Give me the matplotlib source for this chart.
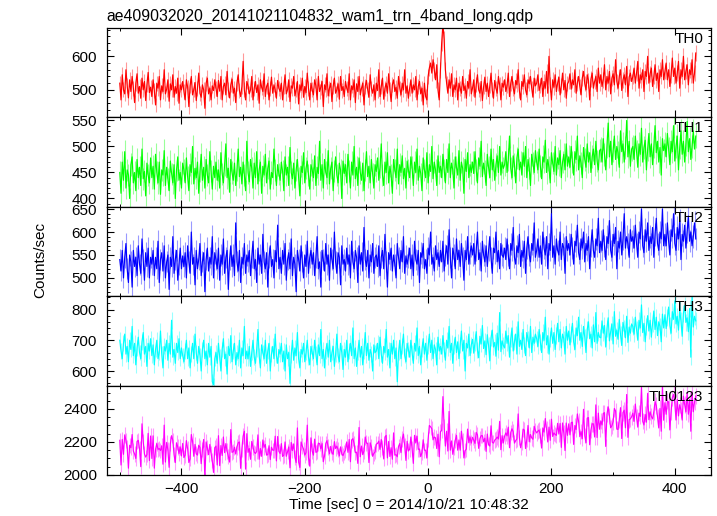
import numpy as np
import matplotlib
matplotlib.use("Agg")
import matplotlib.pyplot as plt
from matplotlib.ticker import MultipleLocator

plt.rcParams['font.family'] = ['Liberation Sans', 'DejaVu Sans']
plt.rcParams['font.size'] = 11

title = "ae409032020_20141021104832_wam1_trn_4band_long.qdp"
xlabel = "Time [sec] 0 = 2014/10/21 10:48:32"
bands = ["TH0", "TH1", "TH2", "TH3", "TH0123"]
colors = ["#ff0000", "#00ff00", "#0000ff", "#00ffff", "#ff00ff"]

# light curve, 2 s bins starting at -500 s (counts/sec)
th0 = [
    520, 470, 545, 500, 488, 560, 512, 476, 530, 495, 540, 505, 462, 520, 548, 490, 510, 475, 535, 500, 525, 468, 515, 552, 492, 508,
    480, 530, 498, 455, 520, 505, 540, 470, 512, 495, 560, 488, 502, 530, 466, 518, 500, 545, 478, 510, 490, 535, 460, 515, 500, 525,
    495, 470, 530, 508, 450, 512, 540, 485, 500, 522, 468, 505, 550, 490, 478, 515, 500, 445, 520, 535, 488, 505, 470, 512, 498, 530,
    505, 480, 528, 496, 540, 470, 510, 520, 485, 555, 500, 476, 515, 532, 490, 505, 462, 520, 545, 498, 480, 510, 585, 500, 470, 525,
    512, 488, 500, 540, 470, 505, 525, 492, 515, 460, 530, 508, 495, 548, 480, 510, 520, 470, 505, 538, 490, 515, 500, 475, 528, 505,
    495, 520, 470, 510, 545, 488, 500, 530, 465, 512, 505, 540, 482, 500, 525, 458, 515, 498, 535, 478, 510, 492, 550, 505, 470, 520,
    500, 485, 530, 512, 470, 540, 495, 508, 525, 450, 515, 500, 548, 482, 505, 520, 465, 510, 535, 490, 500, 518, 472, 540, 498, 510,
    480, 525, 505, 492, 548, 470, 512, 500, 530, 462, 518, 495, 540, 485, 505, 520, 455, 510, 528, 500, 478, 545, 505, 490, 515, 470,
    520, 498, 560, 480, 510, 535, 472, 505, 520, 490, 548, 500, 465, 515, 530, 495, 508, 475, 540, 505, 485, 520, 500, 560, 490, 512,
    475, 505, 530, 490, 515, 500, 540, 470, 510, 525, 488, 505, 455, 520, 480, 470, 540, 565, 580, 550, 590, 560, 530, 575, 500, 470,
    560, 640, 695, 650, 560, 520, 490, 530, 505, 548, 480, 515, 500, 535, 470, 520, 505, 490, 540, 498, 512, 475, 525, 505, 560, 488,
    505, 530, 478, 515, 545, 500, 490, 525, 468, 510, 538, 495, 520, 480, 512, 550, 500, 475, 528, 505, 490, 540, 515, 470, 520, 508,
    530, 495, 512, 550, 480, 520, 540, 505, 488, 528, 515, 560, 498, 470, 525, 510, 545, 500, 485, 530, 518, 540, 505, 478, 535, 512,
    520, 545, 498, 512, 535, 480, 525, 505, 555, 490, 600, 515, 470, 530, 508, 545, 495, 520, 538, 485, 512, 550, 500, 528, 475, 518,
    525, 548, 502, 530, 515, 560, 490, 520, 540, 510, 485, 535, 555, 518, 500, 545, 528, 470, 532, 550, 505, 525, 540, 495, 565, 520,
    545, 510, 530, 575, 500, 540, 520, 555, 488, 535, 548, 515, 590, 525, 505, 540, 560, 498, 530, 545, 515, 570, 480, 538, 550, 525,
    540, 565, 520, 550, 585, 505, 545, 530, 560, 495, 555, 540, 600, 520, 548, 565, 510, 540, 575, 528, 550, 495, 560, 540, 590, 530,
    555, 580, 530, 560, 510, 545, 595, 540, 565, 520, 550, 585, 505, 560, 540, 600, 530, 555, 575, 515, 560, 545, 590, 520, 550, 610,
]
th1 = [
    450, 410, 470, 435, 490, 420, 455, 445, 400, 465, 480, 430, 450, 415, 475, 440, 460, 425, 495, 438, 452, 405, 468, 445, 430, 478,
    440, 462, 418, 485, 450, 430, 470, 408, 455, 445, 492, 425, 460, 438, 415, 472, 448, 430, 465, 400, 455, 480, 435, 450, 420, 468,
    455, 430, 478, 442, 415, 465, 450, 500, 428, 458, 440, 470, 410, 452, 485, 435, 460, 420, 475, 445, 430, 490, 452, 418, 462, 440,
    470, 435, 455, 420, 488, 448, 430, 465, 505, 440, 458, 412, 475, 450, 435, 468, 425, 455, 495, 442, 460, 428, 470, 445, 415, 510,
    450, 432, 475, 458, 420, 468, 440, 490, 428, 455, 470, 410, 462, 445, 485, 430, 458, 472, 418, 450, 440, 495, 455, 425, 465, 448,
    435, 470, 452, 415, 480, 445, 460, 425, 498, 450, 438, 468, 420, 455, 475, 440, 405, 462, 450, 488, 430, 458, 472, 445, 418, 465,
    455, 440, 482, 425, 460, 448, 510, 435, 465, 420, 475, 450, 440, 492, 428, 458, 470, 415, 452, 480, 445, 430, 468, 455, 400, 472,
    448, 465, 430, 485, 452, 420, 470, 445, 500, 438, 460, 425, 478, 450, 435, 468, 415, 455, 490, 442, 462, 430, 475, 448, 420, 465,
    452, 478, 435, 460, 505, 445, 425, 470, 450, 488, 430, 462, 445, 410, 475, 455, 440, 495, 428, 465, 450, 482, 438, 458, 420, 472,
    455, 440, 480, 460, 425, 470, 450, 495, 435, 462, 448, 415, 478, 455, 440, 488, 430, 465, 452, 500, 438, 470, 455, 425, 482, 450,
    462, 440, 485, 455, 430, 475, 450, 505, 440, 468, 455, 420, 480, 460, 445, 492, 435, 470, 458, 410, 475, 452, 488, 440, 465, 450,
    470, 448, 490, 455, 430, 478, 462, 510, 442, 468, 452, 425, 485, 460, 440, 495, 455, 475, 435, 465, 482, 450, 500, 445, 470, 458,
    465, 490, 450, 475, 520, 458, 440, 482, 465, 430, 478, 495, 455, 470, 445, 488, 462, 500, 440, 475, 458, 425, 485, 468, 450, 492,
    470, 455, 495, 462, 438, 480, 470, 512, 450, 475, 460, 430, 488, 468, 452, 500, 445, 478, 465, 492, 440, 470, 485, 455, 505, 462,
    480, 460, 500, 470, 445, 490, 475, 520, 455, 482, 468, 440, 498, 475, 460, 505, 470, 488, 450, 480, 495, 465, 510, 472, 455, 492,
    495, 470, 515, 485, 455, 500, 545, 480, 510, 465, 492, 520, 475, 500, 488, 460, 530, 490, 505, 470, 498, 550, 480, 510, 462, 495,
    500, 475, 520, 490, 460, 505, 485, 535, 470, 498, 512, 455, 495, 525, 480, 505, 465, 500, 540, 488, 510, 470, 498, 445, 515, 492,
    505, 480, 525, 495, 465, 510, 490, 540, 472, 500, 520, 455, 498, 530, 485, 510, 470, 505, 548, 490, 515, 475, 500, 530, 495, 520,
]
th2 = [
    540, 515, 560, 500, 545, 575, 520, 490, 550, 535, 480, 560, 525, 545, 505, 570, 530, 510, 585, 540, 495, 555, 525, 565, 500, 545,
    530, 560, 505, 545, 520, 580, 490, 540, 555, 515, 570, 500, 535, 550, 475, 545, 525, 590, 510, 540, 560, 495, 530, 565, 520, 548,
    525, 555, 500, 570, 535, 510, 600, 530, 545, 485, 560, 520, 540, 575, 505, 535, 555, 470, 540, 565, 515, 545, 530, 590, 500, 555,
    540, 520, 565, 495, 550, 530, 585, 510, 545, 560, 475, 540, 570, 525, 550, 505, 620, 535, 515, 560, 490, 545, 530, 575, 510, 550,
    535, 560, 505, 545, 580, 520, 540, 490, 565, 530, 550, 510, 595, 535, 520, 555, 480, 545, 570, 525, 540, 500, 560, 535, 615, 520,
    545, 510, 560, 530, 575, 495, 540, 555, 520, 585, 505, 545, 530, 470, 560, 540, 515, 570, 535, 500, 550, 525, 580, 510, 545, 560,
    530, 555, 505, 545, 590, 520, 535, 480, 560, 540, 515, 575, 530, 550, 495, 565, 540, 520, 600, 535, 510, 555, 545, 485, 570, 530,
    540, 515, 565, 530, 550, 500, 580, 535, 520, 560, 545, 490, 570, 530, 555, 515, 610, 540, 525, 560, 500, 550, 535, 575, 510, 545,
    550, 525, 570, 505, 545, 560, 520, 595, 535, 480, 555, 540, 565, 515, 550, 530, 500, 575, 545, 520, 560, 535, 590, 510, 548, 530,
    545, 565, 520, 550, 505, 580, 540, 530, 560, 490, 555, 545, 575, 520, 540, 510, 565, 550, 600, 530, 545, 515, 570, 540, 555, 525,
    560, 535, 580, 515, 550, 570, 530, 605, 545, 500, 565, 550, 520, 585, 540, 560, 525, 575, 545, 495, 560, 540, 590, 530, 555, 570,
    550, 575, 530, 560, 600, 540, 555, 515, 580, 550, 535, 570, 525, 560, 590, 545, 510, 565, 555, 600, 535, 560, 520, 575, 550, 545,
    565, 540, 585, 550, 520, 575, 560, 610, 545, 530, 570, 555, 595, 525, 560, 545, 580, 510, 565, 590, 550, 535, 575, 560, 620, 545,
    560, 585, 545, 570, 530, 600, 565, 550, 590, 520, 575, 560, 640, 545, 570, 530, 585, 560, 550, 600, 540, 575, 565, 510, 590, 560,
    575, 550, 595, 565, 530, 580, 570, 615, 555, 540, 585, 565, 600, 535, 575, 560, 590, 520, 570, 605, 560, 545, 585, 570, 630, 555,
    580, 560, 605, 570, 540, 590, 575, 625, 560, 545, 595, 575, 610, 520, 580, 565, 600, 550, 585, 640, 565, 590, 575, 545, 605, 580,
    590, 565, 615, 575, 545, 600, 585, 650, 570, 555, 605, 580, 620, 560, 590, 575, 610, 545, 595, 630, 575, 560, 600, 585, 650, 570,
    595, 570, 620, 580, 550, 605, 590, 640, 575, 560, 610, 585, 625, 540, 595, 580, 615, 565, 600, 635, 580, 600, 570, 590, 620, 585,
]
th3 = [
    700, 665, 640, 690, 720, 655, 680, 630, 700, 670, 745, 650, 690, 620, 675, 710, 660, 640, 695, 725, 655, 680, 615, 690, 665, 705,
    650, 685, 620, 670, 700, 640, 660, 730, 655, 610, 680, 665, 700, 635, 690, 655, 765, 645, 670, 625, 690, 660, 705, 640, 675, 650,
    630, 665, 700, 640, 675, 610, 655, 690, 640, 720, 660, 625, 680, 650, 600, 670, 700, 640, 665, 620, 690, 645, 680, 565, 555, 640,
    660, 625, 690, 645, 600, 670, 705, 640, 655, 590, 680, 650, 715, 630, 665, 690, 620, 660, 640, 700, 610, 675, 650, 745, 640, 665,
    640, 680, 615, 660, 700, 645, 625, 670, 735, 650, 610, 685, 660, 640, 700, 625, 665, 690, 600, 655, 680, 640, 720, 650, 625, 670,
    655, 690, 630, 665, 600, 685, 640, 660, 560, 650, 700, 635, 675, 650, 725, 640, 610, 670, 655, 690, 630, 660, 700, 645, 620, 680,
    660, 640, 700, 655, 620, 685, 650, 735, 640, 670, 610, 665, 690, 645, 700, 630, 660, 680, 615, 655, 720, 650, 630, 690, 660, 605,
    670, 645, 700, 630, 665, 690, 650, 740, 640, 675, 615, 660, 700, 645, 680, 620, 665, 725, 650, 690, 635, 670, 655, 600, 685, 660,
    665, 690, 640, 710, 655, 625, 680, 660, 735, 645, 670, 610, 690, 655, 700, 640, 675, 565, 660, 700, 640, 680, 720, 650, 630, 690,
    670, 645, 700, 660, 625, 690, 665, 740, 650, 680, 620, 670, 705, 655, 690, 635, 680, 720, 660, 700, 640, 685, 670, 620, 710, 665,
    680, 655, 715, 670, 635, 700, 675, 745, 660, 690, 625, 680, 710, 660, 695, 640, 685, 730, 665, 700, 600, 690, 675, 720, 650, 685,
    703, 658, 693, 728, 668, 643, 713, 688, 748, 673, 698, 653, 718, 683, 633, 708, 733, 678, 693, 648, 723, 668, 790, 663, 698, 683,
    675, 730, 690, 715, 645, 705, 740, 665, 695, 720, 655, 760, 680, 700, 670, 735, 685, 650, 725, 705, 675, 745, 660, 710, 690, 720,
    705, 680, 735, 695, 660, 725, 700, 775, 685, 715, 655, 705, 740, 690, 725, 670, 715, 755, 695, 735, 675, 720, 705, 655, 745, 700,
    730, 685, 720, 755, 695, 670, 740, 715, 775, 700, 725, 680, 745, 710, 660, 735, 760, 705, 720, 675, 750, 695, 790, 690, 725, 710,
    708, 763, 723, 748, 678, 738, 773, 698, 728, 753, 688, 793, 713, 733, 703, 768, 718, 683, 758, 738, 708, 778, 693, 743, 723, 753,
    745, 720, 775, 735, 700, 765, 740, 815, 725, 755, 695, 745, 780, 730, 765, 710, 755, 795, 735, 775, 715, 760, 745, 695, 785, 740,
    783, 738, 773, 808, 748, 723, 793, 768, 828, 753, 778, 733, 798, 763, 713, 788, 813, 758, 773, 728, 803, 645, 843, 743, 778, 763,
]

t0 = -500
dt = 2
# sum of the four bands
th0123 = np.array(th0) + np.array(th1) + np.array(th2) + np.array(th3)
series = [np.array(th0), np.array(th1), np.array(th2), np.array(th3), th0123]
time = t0 + dt * np.arange(len(th0))

ylims = [(418, 685), (384, 556), (460, 655), (552, 843), (1998, 2541)]
ymajor = [100, 50, 50, 100, 200]
yminor = [20, 10, 10, 20, 50]

fig = plt.figure(figsize=(7.17, 5.16), dpi=100)
axes = fig.subplots(5, 1, sharex=True, gridspec_kw=dict(hspace=0))
fig.subplots_adjust(left=0.149, right=0.991, top=0.946, bottom=0.079)

for i, ax in enumerate(axes):
    y = series[i]
    err = np.sqrt(y)  # 1 s poisson error
    ax.errorbar(time, y, yerr=err, fmt='none', ecolor=colors[i], alpha=0.4, lw=0.8)
    ax.plot(time, y, color=colors[i], lw=0.85)
    ax.set_xlim(-521, 458)
    ax.set_ylim(*ylims[i])
    ax.yaxis.set_major_locator(MultipleLocator(ymajor[i]))
    ax.yaxis.set_minor_locator(MultipleLocator(yminor[i]))
    ax.xaxis.set_major_locator(MultipleLocator(200))
    ax.xaxis.set_minor_locator(MultipleLocator(100))
    ax.tick_params(which='both', direction='in', top=True, right=True, labelsize=11)
    ax.tick_params(which='major', length=5, width=0.8)
    ax.tick_params(which='minor', length=2.5, width=0.7)
    ax.tick_params(axis='y', pad=7)
    ax.tick_params(axis='x', pad=5)
    for s in ax.spines.values():
        s.set_linewidth(0.9)
    ax.text(0.988, 0.955, bands[i], transform=ax.transAxes, ha='right', va='top', fontsize=11)

axes[0].set_title(title, loc='left', fontsize=11.3, pad=5)
axes[-1].set_xlabel(xlabel, fontsize=11, labelpad=1)
fig.text(0.056, 0.496, "Counts/sec", rotation=90, ha='center', va='center', fontsize=11)

fig.savefig("out.png", dpi=100)
